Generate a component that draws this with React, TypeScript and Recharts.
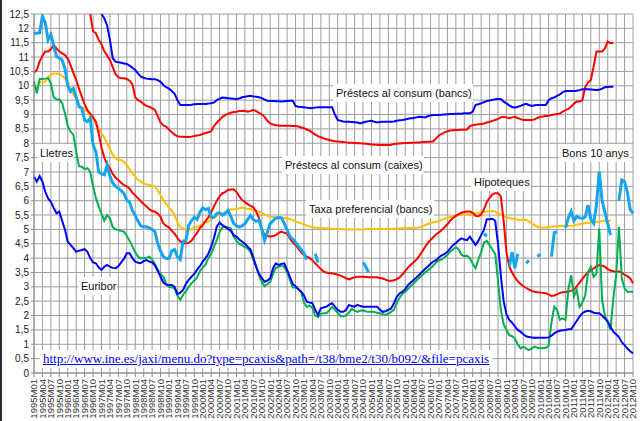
import React from 'react';
import { LineChart, Line, XAxis, YAxis, CartesianGrid } from 'recharts';

// ---- categories (monthly, 1995M01 .. 2012M10) ----
const months: string[] = [];
for (let y = 1995; y <= 2012; y++) {
  for (let m = 1; m <= 12; m++) {
    if (y === 2012 && m > 10) break;
    months.push(`${y}M${String(m).padStart(2, '0')}`);
  }
}

const yTicks = [0, 0.5, 1, 1.5, 2, 2.5, 3, 3.5, 4, 4.5, 5, 5.5, 6, 6.5, 7, 7.5, 8, 8.5, 9, 9.5, 10, 10.5, 11, 11.5, 12, 12.5];

const N = null;

// ---- series values, one row per year ----
const euribor = [
  6.83, 6.66, 6.86, 6.66, 6.31, 6.08, 5.96, 5.75, 5.56, 5.62, 5.30, 5.00,
  4.57, 4.46, 4.35, 4.22, 4.26, 4.28, 4.31, 4.22, 4.00, 3.85, 3.82, 3.68,
  3.59, 3.70, 3.76, 3.70, 3.66, 3.65, 3.72, 3.85, 3.98, 4.17, 4.17, 4.00,
  3.88, 3.84, 3.82, 3.90, 3.93, 3.88, 3.85, 3.75, 3.55, 3.35, 3.15, 3.08,
  3.06, 3.06, 3.00, 2.75, 2.80, 2.89, 3.10, 3.24, 3.35, 3.45, 3.60, 3.72,
  3.88, 4.00, 4.15, 4.40, 4.70, 5.10, 5.23, 5.15, 5.09, 5.02, 4.95, 4.80,
  4.75, 4.65, 4.57, 4.50, 4.40, 4.30, 4.02, 3.70, 3.45, 3.30, 3.18, 3.22,
  3.30, 3.65, 3.82, 3.76, 3.80, 3.82, 3.59, 3.35, 3.10, 3.02, 2.92, 2.83,
  2.70, 2.48, 2.45, 2.43, 2.20, 2.02, 2.25, 2.28, 2.31, 2.38, 2.43, 2.31,
  2.20, 2.13, 2.13, 2.20, 2.37, 2.33, 2.31, 2.37, 2.33, 2.31, 2.31, 2.31,
  2.31, 2.31, 2.31, 2.20, 2.13, 2.15, 2.20, 2.25, 2.43, 2.65, 2.77, 2.83,
  2.92, 3.06, 3.15, 3.24, 3.33, 3.42, 3.52, 3.62, 3.70, 3.80, 3.88, 3.93,
  4.02, 4.10, 4.15, 4.22, 4.34, 4.45, 4.52, 4.62, 4.69, 4.65, 4.63, 4.75,
  4.60, 4.46, 4.60, 4.80, 4.98, 5.35, 5.35, 5.37, 5.30, 4.50, 3.40, 2.50,
  2.05, 1.85, 1.75, 1.62, 1.50, 1.44, 1.35, 1.28, 1.25, 1.24, 1.23, 1.23,
  1.23, 1.23, 1.23, 1.24, 1.30, 1.38, 1.44, 1.47, 1.49, 1.50, 1.52, 1.52,
  1.67, 1.82, 1.96, 2.08, 2.14, 2.17, 2.15, 2.10, 2.08, 2.08, 2.00, 1.90,
  1.80, 1.60, 1.44, 1.35, 1.25, 1.07, 0.97, 0.85, 0.76, 0.68,
];

const lletres = [
  10.14, 9.74, 10.24, 10.24, 10.25, 10.27, 10.09, 9.6, 9.52, 9.53, 9.4, 9.04,
  8.6, 8.4, 8.3, 7.7, 7.2, 7.18, 7.1, 7.13, 7.0, 6.5, 6.1, 5.8,
  5.55, 5.3, 5.5, 5.39, 5.08, 5.0, 4.98, 4.95, 4.92, 4.78, 4.6, 4.4,
  4.2, 4.05, 3.99, 4.0, 4.01, 4.05, 3.96, 3.8, 3.6, 3.45, 3.35, 3.1,
  3.0, 2.98, 2.95, 2.7, 2.55, 2.72, 2.85, 3.0, 3.12, 3.22, 3.33, 3.55,
  3.67, 3.78, 4.0, 4.15, 4.4, 4.63, 4.9, 5.07, 5.09, 5.07, 5.04, 4.75,
  4.6, 4.5, 4.45, 4.38, 4.34, 4.2, 3.95, 3.7, 3.4, 3.18, 3.02, 3.1,
  3.18, 3.45, 3.66, 3.7, 3.74, 3.7, 3.5, 3.25, 2.98, 2.97, 2.92, 2.82,
  2.45, 2.3, 2.35, 2.25, 2.0, 1.95, 2.06, 2.08, 2.08, 2.18, 2.3, 2.2,
  2.1, 1.98, 1.98, 2.01, 2.1, 2.24, 2.17, 2.13, 2.17, 2.18, 2.14, 2.13,
  2.13, 2.12, 2.1, 2.08, 2.05, 2.02, 2.07, 2.13, 2.2, 2.45, 2.62, 2.76,
  2.83, 2.93, 3.03, 3.12, 3.22, 3.32, 3.4, 3.5, 3.57, 3.65, 3.74, 3.85,
  3.92, 3.95, 4.03, 4.12, 4.22, 4.3, 4.38, 4.3, 4.12, 4.07, 4.08, 4.0,
  3.80, 3.65, 3.95, 4.20, 4.55, 4.60, 4.45, 4.30, 4.15, 3.20, 2.20, 1.70,
  1.50, 1.32, 1.28, 1.20, 1.00, 0.86, 0.92, 0.85, 0.80, 0.86, 0.92, 0.88,
  0.86, 0.86, 0.88, 0.95, 1.75, 2.31, 2.20, 1.85, 1.90, 1.85, 2.90, 3.41,
  2.66, 2.89, 2.30, 2.45, 2.70, 3.50, 3.70, 3.35, 3.47, 5.04, 2.54, 2.00,
  1.75, 1.50, 2.60, 3.40, 5.09, 3.30, 2.95, 2.83, 2.83, 2.83,
];

const bons10 = [
  11.83, 11.83, 11.85, 12.43, 12.2, 11.6, 11.78, 11.4, 11.02, 10.97, 10.9, 10.6,
  10.0, 9.8, 9.91, 9.6, 9.27, 9.22, 8.8, 8.75, 8.87, 7.95, 7.7, 7.0,
  6.93, 6.9, 7.24, 6.85, 6.62, 6.5, 6.43, 6.35, 6.25, 6.02, 5.95, 5.65,
  5.48, 5.28, 5.12, 5.09, 5.09, 5.05, 5.0, 4.92, 4.5, 4.25, 4.05, 3.99,
  3.99, 4.25, 4.3, 4.05, 3.95, 4.6, 4.6, 5.15, 5.3, 5.42, 5.35, 5.6,
  5.75, 5.68, 5.73, 5.42, 5.42, 5.55, 5.58, 5.5, 5.56, 5.66, 5.45, 5.2,
  5.12, 5.09, 5.12, 5.2, 5.35, 5.48, 5.35, 5.28, 5.32, 5.0, 4.62, 4.9,
  5.2, 5.3, 5.39, 5.41, 5.4, 5.2, 4.98, 4.75, 4.66, 4.55, 4.42, 4.3,
  4.17, 3.95, N, N, 4.15, 3.85, N, N, N, N, N, N,
  N, N, N, N, N, N, N, N, N, 3.85, 3.7, 3.5,
  N, N, N, N, N, N, N, N, N, N, N, N,
  N, N, N, N, N, N, N, N, N, N, N, N,
  N, N, N, N, N, N, N, N, N, N, N, N,
  N, N, N, N, 4.86, 4.75, N, N, N, N, N, N,
  N, 3.7, 4.2, 3.65, 4.15, N, N, 3.82, 3.92, N, N, 4.05,
  4.14, N, N, N, 4.05, 4.89, 4.92, N, N, 5.05, 5.4, 5.62,
  5.3, 5.45, 5.4, 5.38, 5.44, 5.85, 5.35, 5.21, 5.85, 7.01, 6.0, 5.6,
  5.2, 4.8, N, N, 6.0, 6.72, 6.66, 6.3, 5.7, 5.56,
];

const taxaPreferencial = [
  9.99, 9.91, 10.14, 10.14, 10.14, 10.30, 10.40, 10.43, 10.43, 10.40, 10.35, 10.26,
  10.14, 9.91, 9.70, 9.55, 9.33, 9.25, 9.20, 9.10, 8.90, 8.81, 8.70, 8.50,
  8.35, 8.20, 8.00, 7.80, 7.60, 7.48, 7.42, 7.42, 7.35, 7.24, 7.10, 6.95,
  6.85, 6.72, 6.66, 6.60, 6.57, 6.55, 6.53, 6.50, 6.35, 6.20, 6.02, 5.88,
  5.76, 5.65, 5.50, 5.25, 5.08, 5.02, 5.00, 5.00, 5.00, 5.05, 5.09, 5.14,
  5.19, 5.23, 5.28, 5.35, 5.42, 5.47, 5.52, 5.56, 5.60, 5.66, 5.69, 5.70,
  5.71, 5.74, 5.76, 5.74, 5.71, 5.71, 5.67, 5.65, 5.62, 5.57, 5.52, 5.48,
  5.44, 5.43, 5.42, 5.42, 5.41, 5.40, 5.39, 5.36, 5.33, 5.28, 5.24, 5.21,
  5.17, 5.13, 5.10, 5.08, 5.06, 5.06, 5.05, 5.05, 5.04, 5.03, 5.02, 5.01,
  5.01, 5.01, 5.00, 5.00, 5.00, 5.00, 5.00, 5.00, 5.00, 5.00, 5.01, 5.01,
  5.01, 5.01, 5.01, 5.01, 5.01, 5.01, 5.01, 5.01, 5.02, 5.03, 5.04, 5.04,
  5.04, 5.05, 5.05, 5.06, 5.06, 5.07, 5.10, 5.15, 5.19, 5.22, 5.25, 5.27,
  5.29, 5.33, 5.37, 5.40, 5.43, 5.46, 5.48, 5.50, 5.51, 5.52, 5.53, 5.53,
  5.54, 5.56, 5.58, 5.60, 5.61, 5.62, 5.63, 5.64, 5.62, 5.56, 5.52, 5.46,
  5.43, 5.40, 5.38, 5.36, 5.34, 5.33, 5.33, 5.33, 5.28, 5.21, 5.15, 5.09,
  5.07, 5.06, 5.06, 5.08, 5.09, 5.10, 5.11, 5.12, 5.12, 5.13, 5.13, 5.13,
  5.14, 5.16, 5.18, 5.20, 5.22, 5.23, 5.24, 5.26, 5.26, 5.27, 5.29, 5.30,
  5.30, 5.30, N, N, N, N, N, N, N, N,
];

const hipoteques = [
  10.46, 10.55, 10.84, 11.05, 11.19, 11.19, 11.27, 11.42, 11.3, 11.2, 11.13, 11.07,
  10.95, 10.72, 10.45, 10.2, 9.9, 9.62, 9.36, 9.15, 9.03, 8.9, 8.75, 8.35,
  7.85, 7.5, 7.28, 7.13, 6.93, 6.8, 6.72, 6.62, 6.54, 6.5, 6.42, 6.28,
  6.18, 6.08, 5.98, 5.88, 5.8, 5.7, 5.64, 5.62, 5.55, 5.44, 5.21, 5.12,
  5.07, 4.95, 4.85, 4.7, 4.58, 4.52, 4.52, 4.53, 4.6, 4.75, 4.88, 5.05,
  5.15, 5.3, 5.42, 5.6, 5.8, 6.0, 6.15, 6.26, 6.3, 6.37, 6.39, 6.4,
  6.3, 6.15, 6.02, 5.95, 5.88, 5.82, 5.77, 5.62, 5.4, 5.0, 4.8, 4.77,
  4.75, 4.77, 4.8, 4.88, 4.92, 4.88, 4.86, 4.68, 4.55, 4.46, 4.33, 4.2,
  4.1, 4.05, 4.0, 3.93, 3.82, 3.72, 3.62, 3.53, 3.5, 3.47, 3.47, 3.45,
  3.42, 3.39, 3.35, 3.3, 3.26, 3.3, 3.33, 3.35, 3.35, 3.35, 3.34, 3.33,
  3.33, 3.33, 3.33, 3.31, 3.29, 3.25, 3.21, 3.21, 3.23, 3.27, 3.33, 3.43,
  3.55, 3.68, 3.77, 3.86, 3.95, 4.08, 4.22, 4.38, 4.52, 4.63, 4.73, 4.83,
  4.9, 4.98, 5.08, 5.18, 5.3, 5.4, 5.47, 5.53, 5.58, 5.61, 5.62, 5.62,
  5.58, 5.47, 5.46, 5.52, 5.7, 5.95, 6.1, 6.22, 6.26, 6.26, 6.15, 5.3,
  4.2, 3.7, 3.5, 3.33, 3.2, 3.1, 3.02, 2.96, 2.9, 2.86, 2.83, 2.81,
  2.8, 2.79, 2.78, 2.74, 2.68, 2.7, 2.74, 2.79, 2.81, 2.82, 2.84, 2.86,
  2.89, 3.02, 3.15, 3.28, 3.4, 3.51, 3.58, 3.64, 3.71, 3.76, 3.74, 3.7,
  3.62, 3.57, 3.54, 3.53, 3.53, 3.5, 3.42, 3.37, 3.3, 3.12,
];

const consumCaixes = [
  N, N, N, N, N, N, N, N, N, N, N, N,
  N, N, N, N, N, N, N, N, 12.5, 11.9, 11.83, 11.6,
  11.45, 11.2, 11.05, 10.9, 10.65, 10.4, 10.3, 10.26, 10.26, 10.24, 10.18, 10.05,
  9.6, 9.5, 9.45, 9.36, 9.3, 9.27, 9.22, 9.16, 8.95, 8.72, 8.62, 8.58,
  8.48, 8.38, 8.3, 8.24, 8.23, 8.23, 8.22, 8.22, 8.23, 8.25, 8.27, 8.29,
  8.32, 8.36, 8.38, 8.42, 8.6, 8.72, 8.82, 8.92, 8.98, 9.02, 9.06, 9.09,
  9.1, 9.12, 9.13, 9.12, 9.1, 9.12, 9.16, 9.12, 9.06, 9.0, 8.92, 8.78,
  8.69, 8.65, 8.63, 8.62, 8.61, 8.61, 8.61, 8.61, 8.6, 8.6, 8.58, 8.55,
  8.52, 8.48, 8.44, 8.37, 8.3, 8.25, 8.21, 8.17, 8.14, 8.11, 8.09, 8.07,
  8.06, 8.05, 8.04, 8.03, 8.02, 8.02, 8.01, 8.0, 8.0, 7.99, 7.98, 7.97,
  7.96, 7.95, 7.95, 7.94, 7.94, 7.94, 7.94, 7.95, 7.97, 7.98, 7.99, 8.0,
  8.01, 8.01, 8.02, 8.02, 8.03, 8.03, 8.04, 8.04, 8.05, 8.05, 8.07, 8.17,
  8.27, 8.33, 8.38, 8.42, 8.44, 8.45, 8.46, 8.46, 8.47, 8.47, 8.48, 8.6,
  8.63, 8.64, 8.66, 8.67, 8.69, 8.72, 8.75, 8.78, 8.81, 8.85, 8.9, 8.92,
  8.9, 8.87, 8.9, 8.92, 8.88, 8.84, 8.81, 8.81, 8.81, 8.81, 8.83, 8.88,
  8.92, 8.93, 8.95, 8.96, 8.98, 9.0, 9.02, 9.04, 9.1, 9.15, 9.2, 9.27,
  9.38, 9.45, 9.45, 9.5, 9.95, 10.12, 10.2, 10.67, 11.19, 11.19, 11.19, 11.3,
  11.54, 11.48, 11.5, N, N, N, N, N, N, N,
];

const consumBancs = [
  N, N, N, N, N, N, N, N, N, N, N, N,
  N, N, N, N, N, N, N, N, N, N, N, N,
  12.5, 12.35, 12.1, 11.6, 10.96, 10.84, 10.82, 10.8, 10.78, 10.76, 10.7, 10.63,
  10.55, 10.43, 10.32, 10.28, 10.25, 10.24, 10.23, 10.23, 10.2, 10.14, 10.03, 9.95,
  9.9, 9.82, 9.72, 9.5, 9.33, 9.33, 9.33, 9.33, 9.34, 9.36, 9.37, 9.37,
  9.37, 9.37, 9.38, 9.39, 9.42, 9.5, 9.55, 9.59, 9.58, 9.57, 9.56, 9.55,
  9.54, 9.56, 9.6, 9.62, 9.64, 9.65, 9.63, 9.62, 9.6, 9.57, 9.52, 9.48,
  9.47, 9.47, 9.46, 9.46, 9.45, 9.46, 9.47, 9.48, 9.48, 9.3, 9.27, 9.26,
  9.25, 9.24, 9.22, 9.23, 9.24, 9.25, 9.25, 9.25, 9.25, 9.25, 9.25, 9.0,
  8.81, 8.78, 8.76, 8.75, 8.75, 8.74, 8.73, 8.72, 8.69, 8.72, 8.75, 8.77,
  8.78, 8.75, 8.72, 8.74, 8.75, 8.75, 8.75, 8.75, 8.76, 8.78, 8.8, 8.81,
  8.83, 8.85, 8.87, 8.88, 8.9, 8.92, 8.91, 8.9, 8.94, 8.97, 8.98, 8.98,
  8.98, 8.99, 9.0, 9.01, 9.02, 9.02, 9.03, 9.03, 9.03, 9.04, 9.04, 9.04,
  9.1, 9.33, 9.36, 9.39, 9.43, 9.47, 9.49, 9.51, 9.53, 9.54, 9.54, 9.45,
  9.39, 9.32, 9.26, 9.24, 9.27, 9.3, 9.34, 9.37, 9.33, 9.3, 9.32, 9.33,
  9.33, 9.33, 9.33, 9.5, 9.57, 9.59, 9.65, 9.7, 9.78, 9.82, 9.82, 9.82,
  9.82, 9.83, 9.85, 9.88, 9.88, 9.88, 9.87, 9.86, 9.85, 9.86, 9.9, 9.95,
  9.96, 9.97, 9.97, N, N, N, N, N, N, N,
];

const rows = months.map((m, i) => ({
  m,
  euribor: euribor[i] ?? null,
  lletres: lletres[i] ?? null,
  bons10: bons10[i] ?? null,
  taxa: taxaPreferencial[i] ?? null,
  hipoteques: hipoteques[i] ?? null,
  caixes: consumCaixes[i] ?? null,
  bancs: consumBancs[i] ?? null,
}));

const notes = [
  { text: 'Préstecs al consum (bancs)', left: 333, top: 84 },
  { text: 'Préstecs al consum (caixes)', left: 282, top: 156 },
  { text: 'Taxa preferencial (bancs)', left: 306, top: 200 },
  { text: 'Hipoteques', left: 471, top: 173 },
  { text: 'Bons 10 anys', left: 559, top: 144 },
  { text: 'Lletres', left: 37, top: 144 },
  { text: 'Euribor', left: 78, top: 277 },
];

const sourceUrl = 'http://www.ine.es/jaxi/menu.do?type=pcaxis&path=/t38/bme2/t30/b092/&file=pcaxis';

const SANS = '"Liberation Sans", Arial, sans-serif';

const XTick = (props: any) => {
  const { x, y, payload } = props;
  return (
    <text
      x={x}
      y={y}
      transform={`rotate(-90 ${x} ${y})`}
      textAnchor="end"
      dy="0.35em"
      fontSize={9.5}
      fill="#333"
      fontFamily={SANS}
    >
      {payload.value}
    </text>
  );
};

const fmt = (v: number) => String(v).replace('.', ',');

export default function App() {
  return (
    <div style={{ position: 'absolute', left: 0, top: 0, width: 640, height: 421, background: '#fff', overflow: 'hidden' }}>
      <LineChart width={640} height={421} data={rows} margin={{ top: 14, right: 7, bottom: 0, left: 0 }}>
        <CartesianGrid stroke="#9e9e9e" strokeWidth={1} />
        <XAxis
          dataKey="m"
          interval={2}
          height={48}
          tick={<XTick />}
          tickSize={4}
          tickLine={{ stroke: '#888' }}
          axisLine={{ stroke: '#888' }}
        />
        <YAxis
          width={34}
          domain={[0, 12.5]}
          ticks={yTicks}
          allowDataOverflow
          interval={0}
          tickFormatter={fmt}
          tickSize={3}
          tick={{ fontSize: 10, fill: '#222', fontFamily: SANS }}
          tickLine={{ stroke: '#888' }}
          axisLine={{ stroke: '#888' }}
        />
        <Line dataKey="taxa" stroke="#FFC000" strokeWidth={2} dot={false} isAnimationActive={false} />
        <Line dataKey="caixes" stroke="#FF0000" strokeWidth={2} dot={false} isAnimationActive={false} />
        <Line dataKey="bancs" stroke="#0000FF" strokeWidth={2} dot={false} isAnimationActive={false} />
        <Line dataKey="hipoteques" stroke="#FF0000" strokeWidth={2} dot={false} isAnimationActive={false} />
        <Line dataKey="lletres" stroke="#00B050" strokeWidth={2} dot={false} isAnimationActive={false} />
        <Line dataKey="euribor" stroke="#0000FF" strokeWidth={2} dot={false} isAnimationActive={false} />
        <Line dataKey="bons10" stroke="#14A5F0" strokeWidth={3} dot={false} isAnimationActive={false} />
      </LineChart>
      {notes.map((n) => (
        <div
          key={n.text}
          style={{
            position: 'absolute', left: n.left, top: n.top, height: 18, lineHeight: '18px',
            padding: '0 1px 0 3px', background: '#fff', fontFamily: SANS, fontSize: 11, color: '#111', whiteSpace: 'nowrap',
          }}
        >
          {n.text}
        </div>
      ))}
      <div
        style={{
          position: 'absolute', left: 40, top: 350, height: 18, lineHeight: '18px', padding: '0 3px',
          background: '#fff', fontFamily: '"Liberation Serif", "Times New Roman", serif', fontSize: 13,
          color: '#0000EE', textDecoration: 'underline', whiteSpace: 'nowrap',
        }}
      >
        {sourceUrl}
      </div>
      <div style={{ position: 'absolute', left: 0, top: 0, width: 2, height: 421, background: '#2a2a2a' }} />
    </div>
  );
}
